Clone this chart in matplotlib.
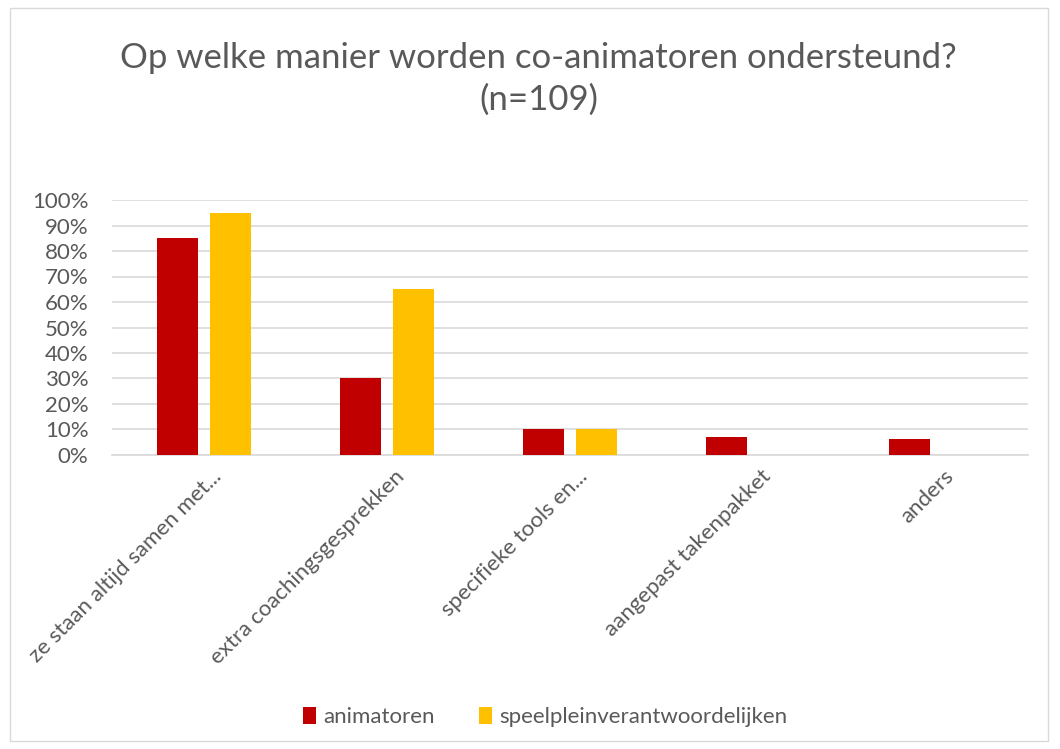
import numpy as np
import matplotlib.pyplot as plt
from matplotlib.patches import Rectangle
from matplotlib.ticker import PercentFormatter

# Data
categories = ['ze staan altijd samen met...', 'extra coachingsgesprekken',
              'specifieke tools en...', 'aangepast takenpakket', 'anders']
animatoren = [85, 30, 10, 7.2, 6.3]
speelpleinverantwoordelijken = [95, 65, 10, 0, 0]
series_names = ['animatoren', 'speelpleinverantwoordelijken']
colors = ['#C00000', '#FFC000']

plt.rcParams['font.family'] = ['Lato', 'DejaVu Sans']
text_color = '#595959'

fig = plt.figure(figsize=(10.6, 7.49), dpi=100)
ax = fig.add_axes([112 / 1060, 1 - 455 / 749, 916 / 1060, 255 / 749])

# outer chart border
fig.patches.append(Rectangle((10 / 1060, 8 / 749), 1038 / 1060, 733 / 749,
                             transform=fig.transFigure, fill=False,
                             edgecolor='#D9D9D9', linewidth=1))

x = np.arange(len(categories))
w = 0.224
off = 0.145
ax.bar(x - off, animatoren, w, color=colors[0], label=series_names[0], zorder=3)
ax.bar(x + off, speelpleinverantwoordelijken, w, color=colors[1],
       label=series_names[1], zorder=3)

ax.set_xlim(-0.5, len(categories) - 0.5)
ax.set_ylim(0, 100)
ax.set_yticks(np.arange(0, 101, 10))
ax.yaxis.set_major_formatter(PercentFormatter(decimals=0))
ax.grid(axis='y', color='#D9D9D9', linewidth=1.2, zorder=0)
for s in ['top', 'right', 'left']:
    ax.spines[s].set_visible(False)
ax.spines['bottom'].set_color('#D9D9D9')
ax.spines['bottom'].set_linewidth(1.2)
ax.tick_params(axis='both', length=0, colors=text_color, labelsize=16)
ax.tick_params(axis='y', pad=17)

ax.set_xticks(x + 0.04)
ax.set_xticklabels(categories, rotation=45, ha='right', rotation_mode='anchor')
ax.tick_params(axis='x', pad=8)

fig.text(0.508, 1 - 58 / 749, 'Op welke manier worden co-animatoren ondersteund?',
         ha='center', va='center', fontsize=25, color=text_color)
fig.text(0.508, 1 - 100 / 749, '(n=109)', ha='center', va='center',
         fontsize=25, color=text_color)

fig.legend(loc='center', bbox_to_anchor=(545 / 1060, 1 - 717 / 749), ncol=2,
           frameon=False, fontsize=16, labelcolor=text_color,
           handlelength=0.6, handleheight=0.8, handletextpad=0.3,
           columnspacing=2.0)

fig.savefig('out.png', dpi=100)
